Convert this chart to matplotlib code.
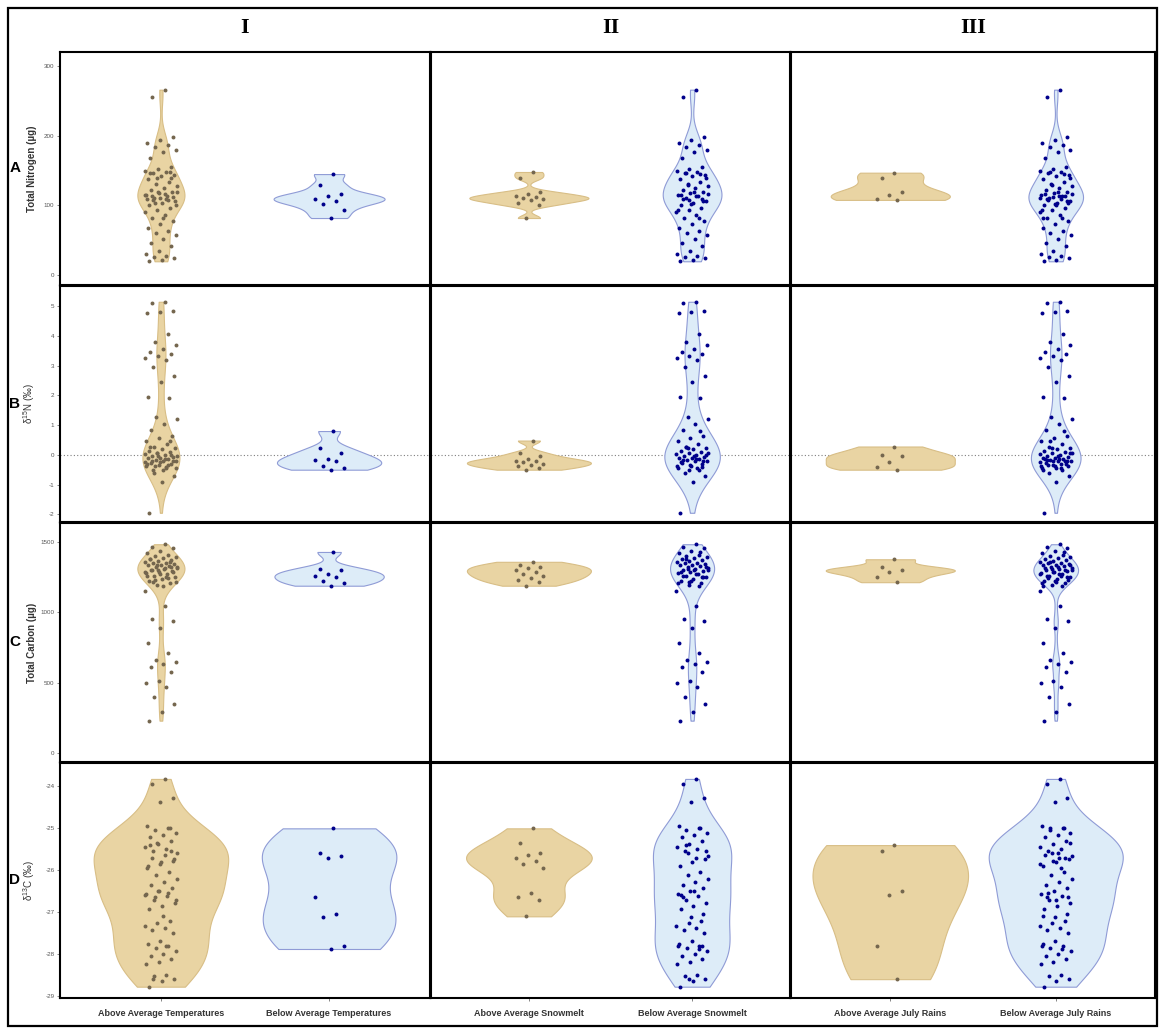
import matplotlib
matplotlib.use("Agg")
import matplotlib.pyplot as plt
from matplotlib.patches import Rectangle
import numpy as np

plt.rcParams["font.family"] = ["Liberation Sans", "DejaVu Sans"]
plt.rcParams["mathtext.fontset"] = "custom"
plt.rcParams["mathtext.rm"] = "Liberation Sans"
plt.rcParams["mathtext.it"] = "Liberation Sans:italic"
plt.rcParams["axes.unicode_minus"] = False

# ---- data ---------------------------------------------------------------
# samples that sit in the large group of every column
core_nitrogen = [266, 255, 198, 194, 190, 187, 184, 180, 176, 168, 155, 152, 150,
                 148, 146, 144, 142, 138, 134, 131, 128, 125, 122, 120, 118, 115,
                 113, 110, 106, 103, 100, 97, 94, 90, 86, 82, 78, 73, 68,
                 64, 60, 57, 52, 46, 42, 35, 30, 28, 26, 24, 22, 20]
core_d15n = [5.15, 5.12, 4.85, 4.82, 4.78, 4.05, 3.78, 3.68, 3.55, 3.45, 3.38, 3.32, 3.25,
             3.18, 2.95, 2.65, 2.45, 1.95, 1.92, 1.28, 1.22, 1.05, 0.85, 0.62, 0.55, 0.48,
             0.35, 0.28, 0.22, 0.18, 0.12, 0.08, 0.05, 0.02, -0.02, -0.05, -0.08, -0.1, -0.12,
             -0.15, -0.18, -0.2, -0.22, -0.26, -0.3, -0.33, -0.38, -0.45, -0.62, -0.7, -0.9, -1.95]
core_carbon = [1485, 1462, 1458, 1440, 1425, 1410, 1402, 1395, 1388, 1380, 1372, 1366, 1360,
               1355, 1350, 1345, 1340, 1335, 1328, 1322, 1315, 1308, 1300, 1292, 1285, 1278,
               1270, 1262, 1250, 1238, 1225, 1210, 1195, 1150, 1045, 950, 938, 890, 785,
               712, 665, 645, 630, 615, 575, 510, 500, 470, 395, 345, 290, 230]
core_d13c = [-23.82, -23.95, -24.28, -24.38, -24.95, -25.0, -25.05, -25.1, -25.15, -25.2, -25.3, -25.38, -25.45,
             -25.5, -25.55, -25.72, -25.8, -25.9, -26.05, -26.12, -26.2, -26.28, -26.35, -26.42, -26.5, -26.56,
             -26.62, -26.7, -26.78, -26.85, -26.92, -27.2, -27.25, -27.32, -27.38, -27.42, -27.5, -27.7, -27.75,
             -27.8, -27.85, -27.92, -28.0, -28.05, -28.12, -28.2, -28.25, -28.5, -28.52, -28.6, -28.65, -28.78]

# below average temperatures (small group, column I)
temp_below_nitrogen = [145, 129, 117, 113, 109, 107, 102, 93, 82]
temp_below_d15n = [0.80, 0.22, 0.07, -0.13, -0.17, -0.22, -0.38, -0.45, -0.50]
temp_below_carbon = [1430, 1310, 1300, 1272, 1259, 1251, 1221, 1206, 1190]
temp_below_d13c = [-25.0, -25.6, -25.65, -25.7, -26.65, -27.05, -27.12, -27.8, -27.88]

# above average snowmelt (small group, column II)
snow_above_nitrogen = [148, 140, 119, 117, 113, 112, 110, 109, 108, 103, 101, 82]
snow_above_d15n = [0.48, 0.07, -0.05, -0.13, -0.2, -0.22, -0.25, -0.3, -0.35, -0.38, -0.45, -0.5]
snow_above_carbon = [1360, 1340, 1326, 1316, 1300, 1290, 1275, 1260, 1248, 1230, 1214, 1190]
snow_above_d13c = [-25.0, -25.35, -25.6, -25.64, -25.7, -25.77, -25.85, -25.95, -26.55, -26.65, -26.72, -27.1]

# above average July rains (small group, column III)
rain_above_nitrogen = [147, 140, 120, 115, 109, 108]
rain_above_d15n = [0.28, 0.0, -0.05, -0.25, -0.4, -0.5]
rain_above_carbon = [1378, 1320, 1300, 1290, 1255, 1215]
rain_above_d13c = [-25.4, -25.55, -26.5, -26.6, -27.8, -28.6]

core = [core_nitrogen, core_d15n, core_carbon, core_d13c]
temp_below = [temp_below_nitrogen, temp_below_d15n, temp_below_carbon, temp_below_d13c]
snow_above = [snow_above_nitrogen, snow_above_d15n, snow_above_carbon, snow_above_d13c]
rain_above = [rain_above_nitrogen, rain_above_d15n, rain_above_carbon, rain_above_d13c]

column_titles = ["I", "II", "III"]
row_letters = ["A", "B", "C", "D"]
group_labels = [["Above Average Temperatures", "Below Average Temperatures"],
                ["Above Average Snowmelt", "Below Average Snowmelt"],
                ["Above Average July Rains", "Below Average July Rains"]]
y_labels = ["Total Nitrogen (µg)", r"δ$^{15}$N (‰)", "Total Carbon (µg)", r"δ$^{13}$C (‰)"]
y_bold = [True, False, True, False]
y_ticks = [[0, 100, 200, 300], [-2, -1, 0, 1, 2, 3, 4, 5],
           [0, 500, 1000, 1500], [-29, -28, -27, -26, -25, -24]]
y_limits = [(-14, 320), (-2.26, 5.68), (-64, 1636), (-29.05, -23.44)]

# violin full widths (x units), [row][column] -> (tan, blue)
violin_widths = [[(0.28, 0.66), (0.73, 0.36), (0.72, 0.33)],
                 [(0.22, 0.62), (0.76, 0.34), (0.78, 0.30)],
                 [(0.28, 0.65), (0.76, 0.27), (0.78, 0.27)],
                 [(0.80, 0.80), (0.77, 0.48), (0.94, 0.81)]]

TAN_FILL, TAN_EDGE, TAN_PT = "#E9D4A3", "#D8BE86", "#74664E"
BLUE_FILL, BLUE_EDGE, BLUE_PT = "#DDECF8", "#8F9BD6", "#00008B"


def groups_for(col, var):
    if col == 0:
        return (core[var] + snow_above[var] + rain_above[var], temp_below[var])
    if col == 1:
        return (snow_above[var], core[var] + temp_below[var] + rain_above[var])
    return (rain_above[var], core[var] + temp_below[var] + snow_above[var])


def nrd0(x):
    x = np.asarray(x, float)
    sd = x.std(ddof=1)
    q75, q25 = np.percentile(x, [75, 25])
    lo = min(sd, (q75 - q25) / 1.34)
    if lo <= 0:
        lo = sd if sd > 0 else 1.0
    return 0.9 * lo * len(x) ** -0.2


def violin(ax, vals, pos, width, fill, edge):
    vals = np.asarray(vals, float)
    bw = nrd0(vals)
    grid = np.linspace(vals.min(), vals.max(), 512)
    dens = np.exp(-0.5 * ((grid[:, None] - vals[None, :]) / bw) ** 2).sum(axis=1)
    dens = dens / dens.max() * width / 2
    ax.fill_betweenx(grid, pos - dens, pos + dens, facecolor=fill,
                     edgecolor=edge, linewidth=0.8, zorder=2)


def jitter(n, spread=0.1):
    # deterministic spread of points across the violin centre
    k = np.arange(1, n + 1)
    return ((k * 0.6180339887) % 1 - 0.5) * 2 * spread


W, H = 1160, 1030
fig = plt.figure(figsize=(W / 100, H / 100), dpi=100)


def rect(x0, y0, x1, y1):
    return [x0 / W, 1 - y1 / H, (x1 - x0) / W, (y1 - y0) / H]


col_bounds = [(60, 430), (431, 790), (791, 1155)]
row_bounds = [(52, 285), (286, 522), (523, 762), (763, 998)]

for r in range(4):
    for c in range(3):
        ax = fig.add_axes(rect(col_bounds[c][0], row_bounds[r][0],
                               col_bounds[c][1], row_bounds[r][1]))
        tan_vals, blue_vals = groups_for(c, r)
        wt, wb = violin_widths[r][c]
        if r == 1:
            ax.axhline(0, color="#7F7F7F", linestyle=(0, (1, 2)), linewidth=0.8, zorder=1)
        violin(ax, tan_vals, 1, wt, TAN_FILL, TAN_EDGE)
        violin(ax, blue_vals, 2, wb, BLUE_FILL, BLUE_EDGE)
        ax.scatter(1 + jitter(len(tan_vals)), tan_vals, s=8, color=TAN_PT,
                   linewidths=0, zorder=3)
        ax.scatter(2 + jitter(len(blue_vals)), blue_vals, s=8, color=BLUE_PT,
                   linewidths=0, zorder=3)
        ax.set_xlim(0.4, 2.6)
        ax.set_ylim(*y_limits[r])
        ax.set_xticks([1, 2])
        ax.set_xticklabels([])
        ax.tick_params(axis="x", length=2.5, width=0.5, color="#555555")
        ax.set_yticks(y_ticks[r])
        if c == 0:
            ax.tick_params(axis="y", length=2.5, width=0.5, color="#555555",
                           labelsize=4.5, labelcolor="#555555", pad=1.5)
            ax.set_ylabel(y_labels[r], fontsize=7,
                          fontweight="bold" if y_bold[r] else "normal",
                          color="#333333")
            ax.yaxis.set_label_coords(-0.062, 0.5)
        else:
            ax.tick_params(axis="y", length=0, labelleft=False)
        for sp in ax.spines.values():
            sp.set_linewidth(1.5)
            sp.set_color("black")
        if r == 3:
            for pos, lab in zip([1, 2], group_labels[c]):
                ax.text(pos, -0.045, lab, transform=ax.get_xaxis_transform(),
                        ha="center", va="top", fontsize=6.5, fontweight="bold",
                        color="#333333")

for r in range(4):
    yc = (row_bounds[r][0] + row_bounds[r][1]) / 2
    fig.text(15 / W, 1 - yc / H, row_letters[r], ha="center", va="center",
             fontsize=11, fontweight="bold")

for c in range(3):
    xc = (col_bounds[c][0] + col_bounds[c][1]) / 2
    fig.text(xc / W, 1 - 28 / H, column_titles[c], ha="center", va="center",
             fontsize=16, fontweight="bold", family=["Liberation Serif", "DejaVu Serif"])

fig.patches.append(Rectangle((8 / W, 1 - 1026 / H), 1149 / W, 1018 / H,
                             transform=fig.transFigure, fill=False,
                             edgecolor="black", linewidth=1.6))

fig.savefig("out.png", dpi=100)
